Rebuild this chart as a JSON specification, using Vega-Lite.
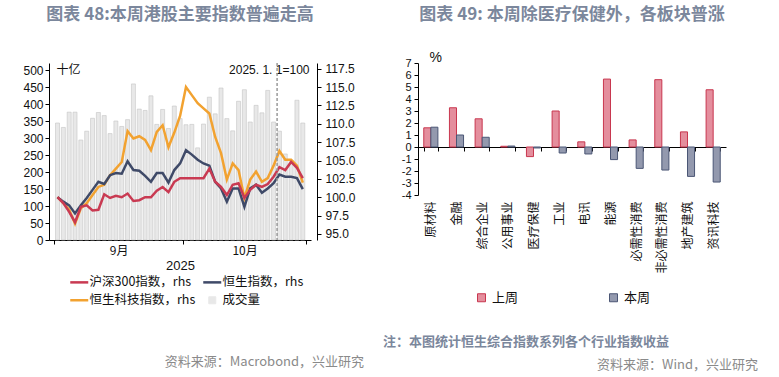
{
  "$schema": "https://vega.github.io/schema/vega-lite/v6.json",
  "padding": {"left": 22, "top": 6, "right": 5, "bottom": 5},
  "background": "white",
  "config": {
    "view": {"stroke": null},
    "font": "Noto Sans CJK SC",
    "axis": {"grid": false, "domainColor": "#000", "tickColor": "#000", "labelColor": "#111", "labelFont": "Liberation Sans", "labelFontSize": 12, "titleFontWeight": "normal", "titleColor": "#111", "titleFont": "Noto Sans CJK SC"},
    "legend": {"padding": 0},
    "title": {"font": "Noto Sans CJK SC", "fontSize": 17, "fontWeight": "bold", "color": "#7b879c"}
  },
  "datasets": {
    "idx": [
      {"d":0,"vol":344,"hs300":100.0,"hsi":100.0,"hstech":100.0},
      {"d":1,"vol":331,"hs300":99.2,"hsi":99.4,"hstech":99.2},
      {"d":2,"vol":376,"hs300":98.0,"hsi":98.9,"hstech":98.3},
      {"d":3,"vol":376,"hs300":96.6,"hsi":97.8,"hstech":96.4},
      {"d":4,"vol":294,"hs300":98.7,"hsi":98.9,"hstech":98.5},
      {"d":5,"vol":320,"hs300":98.9,"hsi":99.9,"hstech":99.2},
      {"d":6,"vol":358,"hs300":98.2,"hsi":101.0,"hstech":100.3},
      {"d":7,"vol":375,"hs300":98.3,"hsi":102.1,"hstech":101.4},
      {"d":8,"vol":366,"hs300":100.4,"hsi":101.8,"hstech":101.7},
      {"d":9,"vol":313,"hs300":99.9,"hsi":103.0,"hstech":103.0},
      {"d":10,"vol":350,"hs300":100.2,"hsi":103.3,"hstech":103.9},
      {"d":11,"vol":334,"hs300":100.0,"hsi":103.2,"hstech":104.8},
      {"d":12,"vol":354,"hs300":100.5,"hsi":104.9,"hstech":109.0},
      {"d":13,"vol":459,"hs300":99.5,"hsi":103.7,"hstech":108.0},
      {"d":14,"vol":385,"hs300":99.6,"hsi":103.6,"hstech":108.3},
      {"d":15,"vol":381,"hs300":100.0,"hsi":102.9,"hstech":107.8},
      {"d":16,"vol":424,"hs300":100.0,"hsi":102.1,"hstech":106.4},
      {"d":17,"vol":340,"hs300":100.9,"hsi":103.3,"hstech":108.9},
      {"d":18,"vol":384,"hs300":101.4,"hsi":103.3,"hstech":109.8},
      {"d":19,"vol":328,"hs300":100.7,"hsi":102.0,"hstech":106.8},
      {"d":20,"vol":394,"hs300":102.1,"hsi":103.7,"hstech":108.8},
      {"d":21,"vol":357,"hs300":102.6,"hsi":104.6,"hstech":111.1},
      {"d":22,"vol":339,"hs300":102.6,"hsi":106.4,"hstech":115.0},
      {"d":23,"vol":340,"hs300":102.6,"hsi":105.8,"hstech":113.9},
      {"d":24,"vol":271,"hs300":102.6,"hsi":105.1,"hstech":112.8},
      {"d":25,"vol":341,"hs300":102.6,"hsi":104.6,"hstech":112.1},
      {"d":26,"vol":420,"hs300":103.9,"hsi":104.3,"hstech":111.4},
      {"d":27,"vol":371,"hs300":102.1,"hsi":102.1,"hstech":108.2},
      {"d":28,"vol":447,"hs300":101.4,"hsi":101.2,"hstech":106.0},
      {"d":29,"vol":357,"hs300":100.3,"hsi":99.4,"hstech":102.4},
      {"d":30,"vol":321,"hs300":101.7,"hsi":101.2,"hstech":104.6},
      {"d":31,"vol":408,"hs300":101.9,"hsi":101.2,"hstech":103.7},
      {"d":32,"vol":442,"hs300":99.9,"hsi":98.7,"hstech":99.9},
      {"d":33,"vol":347,"hs300":101.0,"hsi":101.2,"hstech":102.4},
      {"d":34,"vol":396,"hs300":101.7,"hsi":101.7,"hstech":103.5},
      {"d":35,"vol":374,"hs300":101.4,"hsi":100.6,"hstech":102.1},
      {"d":36,"vol":440,"hs300":101.8,"hsi":101.2,"hstech":102.6},
      {"d":37,"vol":347,"hs300":102.8,"hsi":101.9,"hstech":104.3},
      {"d":38,"vol":320,"hs300":104.1,"hsi":103.1,"hstech":106.3},
      {"d":39,"vol":253,"hs300":103.7,"hsi":102.8,"hstech":105.1},
      {"d":40,"vol":235,"hs300":104.8,"hsi":102.8,"hstech":105.1},
      {"d":41,"vol":411,"hs300":104.0,"hsi":102.6,"hstech":104.3},
      {"d":42,"vol":344,"hs300":102.6,"hsi":101.1,"hstech":102.0}
    ],
    "ind": [
      {"cat":"原材料","wk":"上周","v":1.6},{"cat":"原材料","wk":"本周","v":1.65},
      {"cat":"金融","wk":"上周","v":3.27},{"cat":"金融","wk":"本周","v":1.0},
      {"cat":"综合企业","wk":"上周","v":2.35},{"cat":"综合企业","wk":"本周","v":0.81},
      {"cat":"公用事业","wk":"上周","v":0.06},{"cat":"公用事业","wk":"本周","v":0.08},
      {"cat":"医疗保健","wk":"上周","v":-0.8},{"cat":"医疗保健","wk":"本周","v":-0.08},
      {"cat":"工业","wk":"上周","v":3.0},{"cat":"工业","wk":"本周","v":-0.5},
      {"cat":"电讯","wk":"上周","v":0.43},{"cat":"电讯","wk":"本周","v":-0.58},
      {"cat":"能源","wk":"上周","v":5.66},{"cat":"能源","wk":"本周","v":-1.05},
      {"cat":"必需性消费","wk":"上周","v":0.59},{"cat":"必需性消费","wk":"本周","v":-1.78},
      {"cat":"非必需性消费","wk":"上周","v":5.61},{"cat":"非必需性消费","wk":"本周","v":-1.92},
      {"cat":"地产建筑","wk":"上周","v":1.26},{"cat":"地产建筑","wk":"本周","v":-2.45},
      {"cat":"资讯科技","wk":"上周","v":4.77},{"cat":"资讯科技","wk":"本周","v":-2.92}
    ]
  },
  "resolve": {"legend": {"color": "independent", "fill": "independent", "stroke": "independent"}},
  "hconcat": [
    {
      "spacing": 48,
      "resolve": {"legend": {"color": "independent", "fill": "independent", "stroke": "independent"}},
      "vconcat": [
        {
          "width": 262,
          "height": 177,
          "title": {"text": "图表 48:本周港股主要指数普遍走高", "offset": 38},
          "data": {"name": "idx"},
          "layer": [
            {
              "mark": {"type": "bar", "width": 4, "stroke": "#c4c4c4", "strokeWidth": 0.6},
              "encoding": {
                "x": {
                  "field": "d", "type": "quantitative",
                  "scale": {"domain": [-0.6, 42.55], "nice": false, "zero": false},
                  "axis": {
                    "values": [-0.6, 10.475, 21.5, 32.025, 42.55],
                    "tickOpacity": {"condition": {"test": "datum.value == 10.475 || datum.value == 32.025", "value": 0}, "value": 1},
                    "labelExpr": "datum.value == 10.475 ? '9月' : (datum.value == 32.025 ? '10月' : '')",
                    "title": "2025",
                    "tickSize": 4,
                    "labelFont": "Noto Sans CJK SC",
                    "labelFontSize": 12,
                    "labelPadding": 1,
                    "labelFlush": false,
                    "labelOverlap": false,
                    "labelBound": false,
                    "titleFont": "Liberation Sans",
                    "titleFontSize": 13,
                    "titlePadding": 3
                  }
                },
                "y": {
                  "field": "vol", "type": "quantitative",
                  "scale": {"domain": [0, 520.6], "nice": false},
                  "axis": {
                    "values": [0, 50, 100, 150, 200, 250, 300, 350, 400, 450, 500],
                    "labelOverlap": false,
                    "tickSize": 4,
                    "labelPadding": 2,
                    "title": "十亿",
                    "titleAngle": 0,
                    "titleAlign": "left",
                    "titleBaseline": "top",
                    "titleX": 7,
                    "titleY": 1,
                    "titleFontSize": 12
                  }
                },
                "color": {
                  "datum": "vol", "type": "nominal",
                  "scale": {"domain": ["hs300", "hsi", "hstech", "vol"], "range": ["#c93a52", "#3f4a68", "#f2a230", "#e8e8e8"]},
                  "legend": {
                    "orient": "none",
                    "legendX": 24,
                    "legendY": 213,
                    "direction": "horizontal",
                    "title": null,
                    "columns": 2,
                    "gridAlign": "each",
                    "columnPadding": 2,
                    "rowPadding": 5,
                    "labelFont": "Noto Sans CJK SC",
                    "labelFontSize": 12.5,
                    "labelColor": "#111",
                    "symbolType": "stroke",
                    "symbolSize": 324,
                    "symbolStrokeWidth": 2.5,
                    "labelOffset": 4,
                    "labelExpr": "datum.value == 'hs300' ? '沪深300指数，rhs' : (datum.value == 'hsi' ? '恒生指数，rhs' : (datum.value == 'hstech' ? '恒生科技指数，rhs' : '成交量'))",
                    "encode": {
                      "symbols": {
                        "update": {
                          "shape": {"signal": "datum.value == 'vol' ? 'square' : 'stroke'"},
                          "size": {"signal": "datum.value == 'vol' ? 49 : 324"},
                          "strokeWidth": {"signal": "datum.value == 'vol' ? 1 : 2.5"},
                          "stroke": {"signal": "datum.value == 'vol' ? '#c4c4c4' : (datum.value == 'hs300' ? '#c93a52' : (datum.value == 'hsi' ? '#3f4a68' : '#f2a230'))"},
                          "fill": {"signal": "datum.value == 'vol' ? '#e8e8e8' : 'transparent'"},
                          "opacity": {"value": 1}
                        }
                      }
                    }
                  }
                }
              }
            },
            {
              "transform": [{"fold": ["hstech", "hsi", "hs300"], "as": ["s", "v"]}],
              "mark": {"type": "line", "strokeWidth": 2.5},
              "encoding": {
                "x": {"field": "d", "type": "quantitative"},
                "y": {
                  "field": "v", "type": "quantitative",
                  "scale": {"domain": [94.18, 118.27], "nice": false, "zero": false},
                  "axis": {
                    "orient": "right",
                    "offset": 6,
                    "values": [95, 97.5, 100, 102.5, 105, 107.5, 110, 112.5, 115, 117.5],
                    "labelOverlap": false,
                    "format": ".1f",
                    "tickSize": 4,
                    "labelPadding": 4,
                    "title": "2025. 1. 1=100",
                    "titleAngle": 0,
                    "titleAlign": "right",
                    "titleBaseline": "top",
                    "titleX": -8,
                    "titleY": 1,
                    "titleFont": "Liberation Sans",
                    "titleFontSize": 12
                  }
                },
                "color": {
                  "field": "s", "type": "nominal",
                  "scale": {"domain": ["hs300", "hsi", "hstech", "vol"], "range": ["#c93a52", "#3f4a68", "#f2a230", "#e8e8e8"]},
                  "legend": {
                    "orient": "none",
                    "legendX": 24,
                    "legendY": 213,
                    "direction": "horizontal",
                    "title": null,
                    "columns": 2,
                    "gridAlign": "each",
                    "columnPadding": 2,
                    "rowPadding": 5,
                    "labelFont": "Noto Sans CJK SC",
                    "labelFontSize": 12.5,
                    "labelColor": "#111",
                    "symbolType": "stroke",
                    "symbolSize": 324,
                    "symbolStrokeWidth": 2.5,
                    "labelOffset": 4,
                    "labelExpr": "datum.value == 'hs300' ? '沪深300指数，rhs' : (datum.value == 'hsi' ? '恒生指数，rhs' : (datum.value == 'hstech' ? '恒生科技指数，rhs' : '成交量'))",
                    "encode": {
                      "symbols": {
                        "update": {
                          "shape": {"signal": "datum.value == 'vol' ? 'square' : 'stroke'"},
                          "size": {"signal": "datum.value == 'vol' ? 49 : 324"},
                          "strokeWidth": {"signal": "datum.value == 'vol' ? 1 : 2.5"},
                          "stroke": {"signal": "datum.value == 'vol' ? '#c4c4c4' : (datum.value == 'hs300' ? '#c93a52' : (datum.value == 'hsi' ? '#3f4a68' : '#f2a230'))"},
                          "fill": {"signal": "datum.value == 'vol' ? '#e8e8e8' : 'transparent'"},
                          "opacity": {"value": 1}
                        }
                      }
                    }
                  }
                }
              }
            },
            {
              "data": {"values": [{"d": 37.6}]},
              "mark": {"type": "rule", "strokeDash": [3, 2], "color": "#9a9a9a", "strokeWidth": 1.5},
              "encoding": {"x": {"field": "d", "type": "quantitative"}}
            }
          ],
          "resolve": {"scale": {"y": "independent"}}
        },
        {
          "width": 315,
          "height": 1,
          "data": {"values": [{}]},
          "mark": {"type": "text"},
          "encoding": {"text": {"value": ""}},
          "title": {"text": "资料来源：Macrobond，兴业研究", "anchor": "end", "frame": "group", "offset": 0, "fontSize": 13, "fontWeight": "normal", "color": "#8a8a8a"}
        }
      ]
    },
    {
      "spacing": 9,
      "resolve": {"legend": {"color": "independent", "fill": "independent", "stroke": "independent"}},
      "vconcat": [
        {
          "width": 308,
          "height": 132,
          "title": {"text": "图表 49: 本周除医疗保健外，各板块普涨", "offset": 26, "frame": "group"},
          "data": {"name": "ind"},
          "mark": {"type": "bar", "strokeWidth": 1},
          "encoding": {
            "x": {
              "field": "cat", "type": "nominal", "sort": null,
              "scale": {"paddingInner": 0.45, "paddingOuter": 0.225},
              "axis": {"title": null, "labelAngle": -90, "offset": -48, "tickBand": "extent", "tickSize": 4, "labelPadding": 50, "labelFontSize": 12, "labelFont": "Noto Sans CJK SC"}
            },
            "xOffset": {"field": "wk", "type": "nominal", "sort": ["上周", "本周"]},
            "y": {
              "field": "v", "type": "quantitative",
              "scale": {"domain": [-4, 7], "nice": false},
              "axis": {
                "values": [-4, -3, -2, -1, 0, 1, 2, 3, 4, 5, 6, 7],
                "labelOverlap": false,
                "labelExpr": "'' + datum.value",
                "labelFontSize": 11,
                "tickSize": 4,
                "labelPadding": 3,
                "title": "%",
                "titleAngle": 0,
                "titleAlign": "left",
                "titleBaseline": "bottom",
                "titleX": 11,
                "titleY": 1,
                "titleFontSize": 14,
                "titleFont": "Liberation Sans"
              }
            },
            "fill": {
              "field": "wk", "type": "nominal",
              "scale": {"domain": ["上周", "本周"], "range": ["#e48e9d", "#9399ae"]},
              "legend": {"orient": "none", "legendX": 57, "legendY": 228, "direction": "horizontal", "title": null, "columnPadding": 88, "symbolType": "square", "symbolSize": 64, "symbolStrokeWidth": 1, "labelFontSize": 13, "labelFont": "Noto Sans CJK SC", "labelColor": "#111"}
            },
            "stroke": {
              "field": "wk", "type": "nominal",
              "scale": {"domain": ["上周", "本周"], "range": ["#c8374f", "#4b5675"]}
            }
          }
        },
        {
          "width": 308,
          "height": 1,
          "data": {"values": [{}]},
          "mark": {"type": "text"},
          "encoding": {"text": {"value": ""}},
          "title": {"text": "注：本图统计恒生综合指数系列各个行业指数收益", "orient": "bottom", "anchor": "start", "frame": "group", "dx": -35, "offset": 10, "fontSize": 13, "fontWeight": "bold", "color": "#7b879c"}
        },
        {
          "width": 308,
          "height": 1,
          "data": {"values": [{}]},
          "mark": {"type": "text"},
          "encoding": {"text": {"value": ""}},
          "title": {"text": "资料来源：Wind，兴业研究", "anchor": "end", "frame": "group", "dx": 32, "offset": 0, "fontSize": 13, "fontWeight": "normal", "color": "#8a8a8a"}
        }
      ]
    }
  ],
  "spacing": 19
}
